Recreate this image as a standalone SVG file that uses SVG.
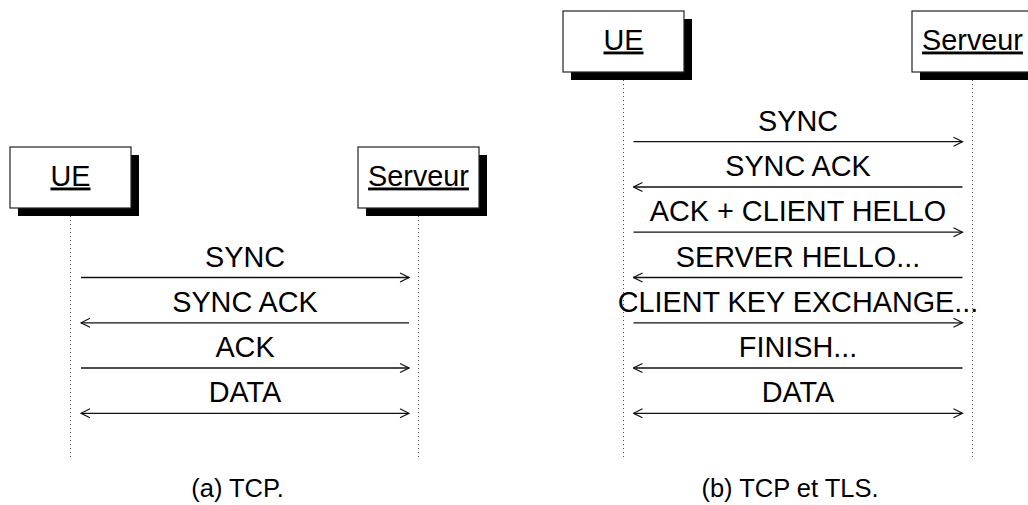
<svg xmlns="http://www.w3.org/2000/svg" width="1028" height="505" viewBox="0 0 1028 505">
<defs>
<style>
text{font-family:"Liberation Sans",Arial,Helvetica,sans-serif;fill:#000}
.lbl{font-size:28.8px;text-anchor:middle}
.name{font-size:28.8px;text-anchor:middle;text-decoration:underline;text-decoration-thickness:1.3px;text-underline-offset:4px}
.cap{font-size:25.5px;text-anchor:middle}
.box{fill:#fff;stroke:#222;stroke-width:1.2}
.shadow{fill:#000}
.life{stroke:#555;stroke-width:1;stroke-dasharray:1.2 2.8;fill:none}
.msg{stroke:#111;stroke-width:1.3;fill:none}
.to{marker-end:url(#ah)}
.from{marker-start:url(#ah)}
.both{marker-start:url(#ah);marker-end:url(#ah)}
</style>
<marker id="ah" markerUnits="userSpaceOnUse" markerWidth="12" markerHeight="12" viewBox="-1 -6 12 12" refX="10" refY="0" orient="auto-start-reverse">
<path d="M1,-4.5 L10,0 L1,4.5" fill="none" stroke="#111" stroke-width="1.2"/>
</marker>
</defs>

<g id="lifelines">
<line class="life" x1="70.5" y1="208" x2="70.5" y2="457"/>
<line class="life" x1="418.5" y1="208" x2="418.5" y2="457"/>
<line class="life" x1="623.5" y1="72" x2="623.5" y2="457"/>
<line class="life" x1="972.5" y1="72" x2="972.5" y2="457"/>
</g>

<g id="node-a-ue">
<rect class="shadow" x="18" y="155" width="121" height="61"/>
<rect class="box" x="10" y="147" width="121" height="61"/>
<text class="name" x="70.5" y="185.5">UE</text>
</g>
<g id="node-a-serveur">
<rect class="shadow" x="366" y="155" width="121" height="61"/>
<rect class="box" x="358" y="147" width="121" height="61"/>
<text class="name" x="418.5" y="185.5">Serveur</text>
</g>
<g id="node-b-ue">
<rect class="shadow" x="571" y="19" width="121" height="61"/>
<rect class="box" x="563" y="11" width="121" height="61"/>
<text class="name" x="623.5" y="49.5">UE</text>
</g>
<g id="node-b-serveur">
<rect class="shadow" x="920" y="19" width="121" height="61"/>
<rect class="box" x="912" y="11" width="121" height="61"/>
<text class="name" x="972.5" y="49.5">Serveur</text>
</g>

<g id="connectors">
<line class="msg to" x1="81" y1="277.5" x2="409" y2="277.5"/>
<line class="msg from" x1="81" y1="322.8" x2="409" y2="322.8"/>
<line class="msg to" x1="81" y1="368" x2="409" y2="368"/>
<line class="msg both" x1="81" y1="413.3" x2="409" y2="413.3"/>

<line class="msg to" x1="633.5" y1="141.7" x2="962.5" y2="141.7"/>
<line class="msg from" x1="633.5" y1="187" x2="962.5" y2="187"/>
<line class="msg to" x1="633.5" y1="232.2" x2="962.5" y2="232.2"/>
<line class="msg from" x1="633.5" y1="277.5" x2="962.5" y2="277.5"/>
<line class="msg to" x1="633.5" y1="322.8" x2="962.5" y2="322.8"/>
<line class="msg from" x1="633.5" y1="368" x2="962.5" y2="368"/>
<line class="msg both" x1="633.5" y1="413.3" x2="962.5" y2="413.3"/>
</g>

<g id="labels">
<text class="lbl" x="245" y="266.5">SYNC</text>
<text class="lbl" x="245" y="311.8">SYNC ACK</text>
<text class="lbl" x="245" y="357">ACK</text>
<text class="lbl" x="245" y="402.3">DATA</text>

<text class="lbl" x="798" y="130.7">SYNC</text>
<text class="lbl" x="798" y="176">SYNC ACK</text>
<text class="lbl" x="798" y="221.2">ACK + CLIENT HELLO</text>
<text class="lbl" x="798" y="266.5">SERVER HELLO...</text>
<text class="lbl" x="798" y="311.8">CLIENT KEY EXCHANGE...</text>
<text class="lbl" x="798" y="357">FINISH...</text>
<text class="lbl" x="798" y="402.3">DATA</text>
</g>

<g id="captions">
<text class="cap" x="237.5" y="497">(a) TCP.</text>
<text class="cap" x="790" y="497">(b) TCP et TLS.</text>
</g>
</svg>
